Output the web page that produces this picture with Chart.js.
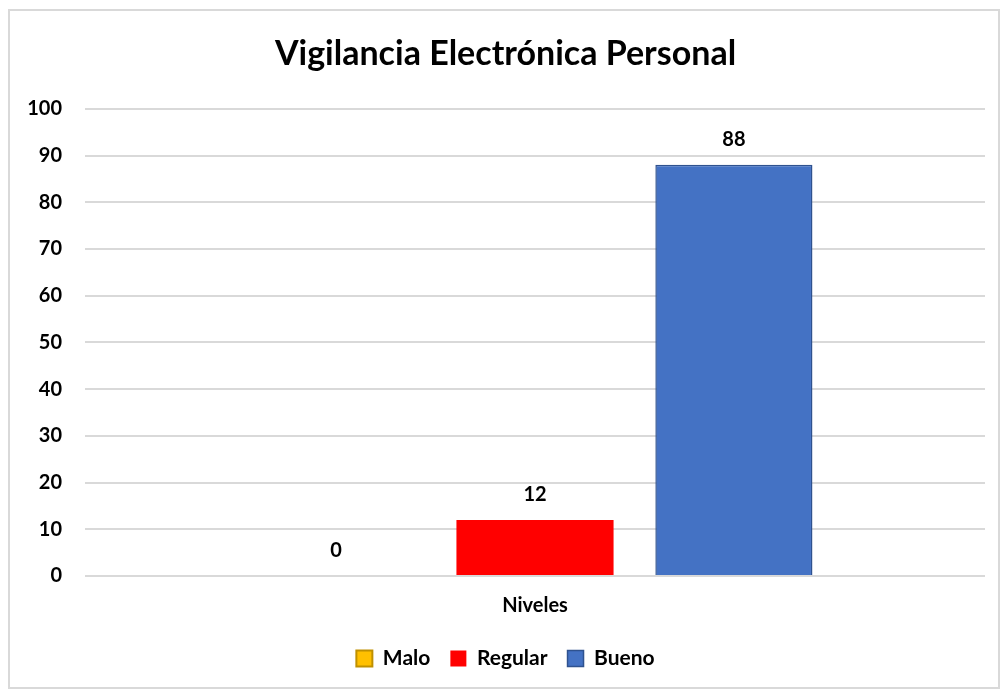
<!DOCTYPE html>
<html>
<head>
<meta charset="utf-8">
<script src="https://cdn.jsdelivr.net/npm/chart.js@4.4.1/dist/chart.umd.min.js"></script>
<style>
  html, body { margin: 0; padding: 0; background: #fff; }
  #frame {
    position: absolute; left: 8px; top: 9px;
    width: 988px; height: 676px;
    border: 2px solid #d9d9d9;
  }
  #chart { display: block; }
</style>
</head>
<body>
<div id="frame"><canvas id="chart" width="988" height="676"></canvas></div>
<script>
// data
var categories = ['Niveles'];
var seriesNames = ['Malo', 'Regular', 'Bueno'];
var malo = [0];
var regular = [12];
var bueno = [88];
var yTicks = [0, 10, 20, 30, 40, 50, 60, 70, 80, 90, 100];

var FONT = 'Lato, "Open Sans", sans-serif';

// draws the value above each bar, like Excel's data labels
var valueLabels = {
  id: 'valueLabels',
  afterDatasetsDraw: function (chart) {
    var ctx = chart.ctx;
    ctx.save();
    ctx.font = 'bold 20px ' + FONT;
    ctx.fillStyle = '#000';
    ctx.textAlign = 'center';
    ctx.textBaseline = 'middle';
    chart.data.datasets.forEach(function (ds, i) {
      var meta = chart.getDatasetMeta(i);
      meta.data.forEach(function (bar, j) {
        ctx.fillText(String(ds.data[j]), bar.x, bar.y - 25);
      });
    });
    ctx.restore();
  }
};

new Chart(document.getElementById('chart'), {
  type: 'bar',
  data: {
    labels: categories,
    datasets: [
      { label: seriesNames[0], data: malo, backgroundColor: '#FFC000', borderColor: '#BF9000', borderWidth: 2 },
      { label: seriesNames[1], data: regular, backgroundColor: '#FF0000', borderColor: '#FF0000', borderWidth: 0 },
      { label: seriesNames[2], data: bueno, backgroundColor: '#4472C4', borderColor: '#2F528F', borderWidth: 1.5 }
    ]
  },
  options: {
    responsive: false,
    animation: false,
    devicePixelRatio: 1,
    categoryPercentage: 0.663,
    barPercentage: 0.79,
    layout: { padding: { left: 16, right: 13, top: 0, bottom: 8 } },
    plugins: {
      title: {
        display: true,
        text: 'Vigilancia Electrónica Personal',
        color: '#000',
        font: { family: FONT, size: 34, weight: 'bold' },
        padding: { top: 23, bottom: 34 }
      },
      legend: {
        position: 'bottom',
        labels: {
          color: '#000',
          font: { family: FONT, size: 21, weight: 'bold' },
          boxWidth: 16,
          boxHeight: 16,
          padding: 20
        }
      },
      tooltip: { enabled: false }
    },
    scales: {
      x: {
        grid: { display: false },
        border: { display: false },
        ticks: { color: '#000', font: { family: FONT, size: 20, weight: 'bold' }, padding: 10 }
      },
      y: {
        min: 0,
        max: 100,
        afterBuildTicks: function (axis) {
          axis.ticks = yTicks.map(function (v) { return { value: v }; });
        },
        afterFit: function (axis) {
          axis.width = 59;
        },
        grid: { color: '#d9d9d9', lineWidth: 2, drawTicks: false },
        border: { display: false },
        ticks: { color: '#000', font: { family: FONT, size: 20, weight: 'bold' }, padding: 23 }
      }
    }
  },
  plugins: [valueLabels]
});
</script>
</body>
</html>
